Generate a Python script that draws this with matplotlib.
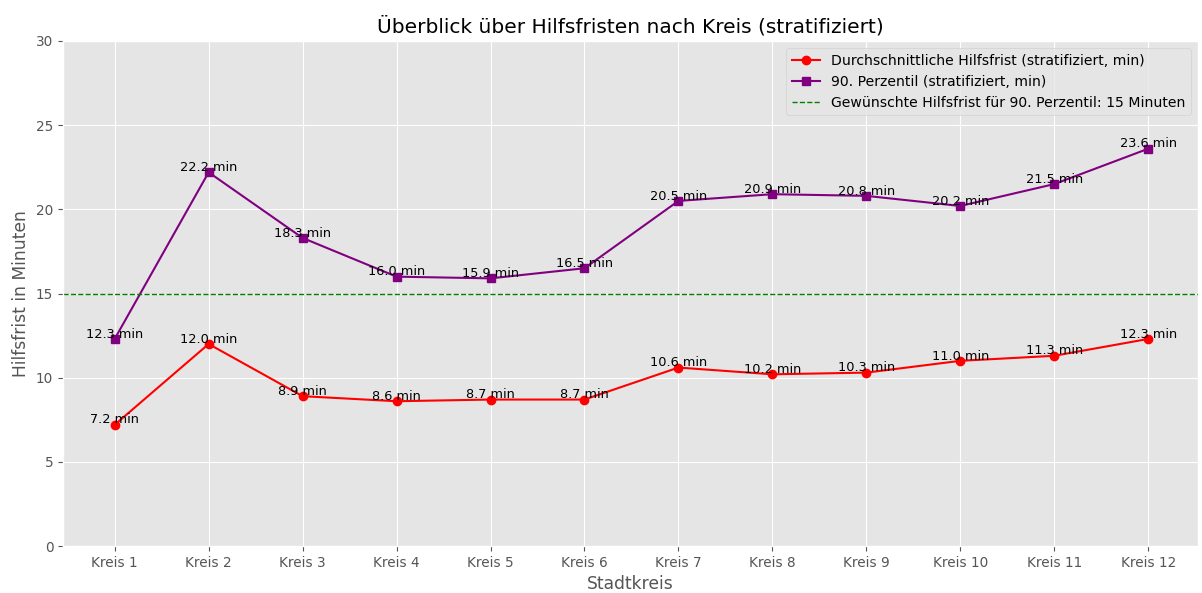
import matplotlib
matplotlib.use("Agg")
import matplotlib.pyplot as plt

plt.style.use("ggplot")

kreise = [f"Kreis {i}" for i in range(1, 13)]
mean_vals = [7.2, 12.0, 8.9, 8.6, 8.7, 8.7, 10.6, 10.2, 10.3, 11.0, 11.3, 12.3]
p90_vals = [12.3, 22.2, 18.3, 16.0, 15.9, 16.5, 20.5, 20.9, 20.8, 20.2, 21.5, 23.6]
target = 15

fig, ax = plt.subplots(figsize=(12.02, 5.93), dpi=100)
fig.subplots_adjust(left=63/1202, right=1198/1202, top=1-41/593, bottom=1-546/593)
x = list(range(len(kreise)))
ax.plot(x, mean_vals, color="red", marker="o", label="Durchschnittliche Hilfsfrist (stratifiziert, min)")
ax.plot(x, p90_vals, color="purple", marker="s", label="90. Perzentil (stratifiziert, min)")
ax.axhline(target, color="green", linestyle="--", linewidth=1,
           label="Gewünschte Hilfsfrist für 90. Perzentil: 15 Minuten")

for xi, v in zip(x, mean_vals):
    ax.text(xi, v - 0.1, f"{v:.1f} min", ha="center", va="bottom", fontsize=9.3, color="black")
for xi, v in zip(x, p90_vals):
    ax.text(xi, v - 0.1, f"{v:.1f} min", ha="center", va="bottom", fontsize=9.3, color="black")

ax.set_xticks(x)
ax.set_xticklabels(kreise)
ax.tick_params(labelsize=9.8)
ax.set_ylim(0, 30)
ax.set_xlim(-0.55, 11.53)
ax.set_title("Überblick über Hilfsfristen nach Kreis (stratifiziert)", fontsize=14.5)
ax.set_xlabel("Stadtkreis", fontsize=12.3)
ax.set_ylabel("Hilfsfrist in Minuten", fontsize=12.3)
ax.legend(loc="upper right", fontsize=10.1)

fig.savefig("out.png", dpi=100)
